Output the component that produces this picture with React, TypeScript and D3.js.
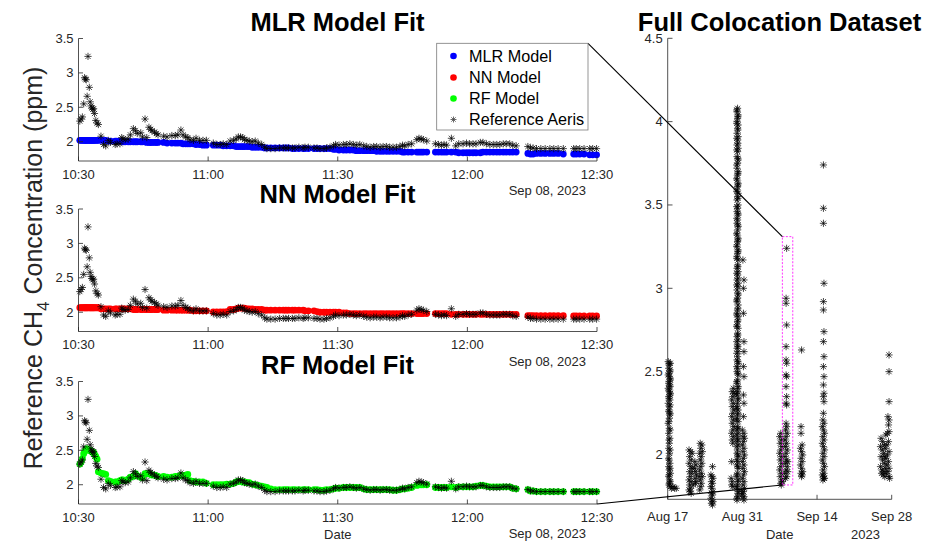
import React from 'react';
import * as d3 from 'd3';

// ---------- Left panels: Sep 08, 2023, minutes after 10:30 ----------
const minutes = [0.3,0.6,0.9,1.2,1.4,1.6,1.8,2.0,2.2,2.5,2.7,2.9,3.1,3.3,3.5,3.7,4.0,4.3,4.6,5.2,5.8,6.3,6.9,7.4,8.5,8.9,9.6,10.0,10.3,10.8,11.5,12.0,12.7,13.2,13.6,14.4,14.8,15.4,15.8,16.3,16.7,17.0,17.6,18.0,18.4,19.7,20.5,21.6,22.4,23.0,23.7,24.2,24.8,25.3,25.8,26.6,27.2,28.0,28.8,29.6,31.2,32.0,32.8,33.5,34.3,35.1,35.9,36.5,37.0,37.5,38.0,38.4,39.0,39.5,40.2,40.9,41.6,42.4,43.1,43.6,44.5,45.5,46.5,47.4,48.0,48.6,49.5,50.1,51.0,52.0,52.4,53.2,54.5,55.2,55.9,56.8,57.4,58.2,59.0,59.5,60.3,61.3,62.0,62.8,63.6,64.3,65.1,66.0,66.7,67.5,68.3,69.0,69.8,70.5,71.3,72.0,72.8,73.6,74.4,75.0,75.5,76.3,77.1,78.3,78.8,79.3,79.8,80.6,82.6,83.3,84.0,84.6,85.2,86.3,87.3,88.0,89.0,89.8,90.5,91.3,92.0,93.0,93.6,94.4,95.2,96.0,96.8,97.5,98.3,99.0,99.8,100.5,101.3,104.0,104.6,105.2,106.0,107.0,108.0,109.1,110.0,111.0,112.2,114.6,115.2,116.0,117.0,118.3,119.0,119.9];
const refAeris = [2.30,2.33,2.36,2.55,2.93,2.91,2.90,2.66,3.24,2.79,2.58,2.52,2.49,2.47,2.48,2.41,2.31,2.27,2.25,2.08,1.96,1.94,2.02,1.99,1.96,1.97,1.97,2.06,2.04,2.03,2.04,2.10,2.19,2.16,2.12,2.13,2.07,2.33,2.06,2.21,2.18,2.16,2.14,2.12,2.10,2.08,2.07,2.09,2.09,2.10,2.17,2.10,2.07,2.06,2.03,2.02,2.05,2.02,2.02,2.02,1.98,1.96,1.96,1.97,1.96,2.01,2.02,2.04,2.07,2.07,2.06,2.03,2.02,2.01,2.00,2.01,1.98,1.96,1.92,1.90,1.90,1.90,1.91,1.91,1.91,1.91,1.91,1.91,1.92,1.91,1.92,1.92,1.91,1.91,1.90,1.90,1.91,1.92,1.94,1.96,1.95,1.96,1.96,1.97,1.96,1.95,1.96,1.94,1.93,1.92,1.93,1.93,1.92,1.93,1.93,1.92,1.92,1.92,1.93,1.95,1.94,1.96,1.97,2.03,2.05,2.04,2.03,2.01,1.97,1.96,1.95,1.96,1.95,2.05,1.94,1.97,1.97,1.98,1.97,1.97,1.97,1.99,1.99,1.97,1.96,1.96,1.96,1.96,1.97,1.97,1.97,1.95,1.94,1.93,1.91,1.91,1.90,1.90,1.90,1.90,1.90,1.90,1.90,1.90,1.90,1.90,1.90,1.90,1.90,1.90];
const mlrModel = [2.02,2.02,2.02,2.02,2.02,2.02,2.02,2.02,2.02,2.02,2.02,2.02,2.02,2.02,2.02,2.02,2.02,2.02,2.02,2.02,2.02,2.02,2.01,2.01,2.01,2.01,2.01,2.01,2.00,2.00,2.00,2.00,2.00,2.00,2.00,2.00,2.00,2.00,1.99,1.99,1.99,1.99,1.99,1.99,1.99,1.99,1.98,1.98,1.98,1.98,1.98,1.97,1.97,1.97,1.97,1.97,1.96,1.96,1.95,1.95,1.95,1.95,1.95,1.94,1.94,1.94,1.94,1.93,1.93,1.93,1.93,1.93,1.93,1.93,1.92,1.92,1.92,1.92,1.91,1.91,1.91,1.91,1.91,1.91,1.91,1.91,1.90,1.90,1.90,1.90,1.90,1.90,1.90,1.90,1.90,1.90,1.90,1.90,1.89,1.89,1.88,1.88,1.88,1.88,1.88,1.87,1.87,1.87,1.87,1.87,1.87,1.86,1.86,1.86,1.86,1.86,1.86,1.86,1.86,1.85,1.85,1.85,1.85,1.85,1.85,1.85,1.85,1.85,1.85,1.85,1.85,1.85,1.85,1.85,1.85,1.84,1.84,1.84,1.84,1.84,1.84,1.84,1.85,1.85,1.85,1.85,1.85,1.85,1.85,1.85,1.85,1.85,1.85,1.83,1.82,1.82,1.83,1.83,1.83,1.83,1.83,1.83,1.82,1.82,1.82,1.82,1.82,1.81,1.81,1.81];
const nnModel = [2.065,2.065,2.065,2.065,2.065,2.065,2.065,2.065,2.065,2.065,2.065,2.065,2.065,2.065,2.065,2.065,2.065,2.065,2.065,2.05,2.05,2.05,2.05,2.05,2.05,2.05,2.05,2.05,2.05,2.05,2.05,2.05,2.04,2.04,2.04,2.04,2.04,2.04,2.04,2.04,2.04,2.04,2.04,2.04,2.04,2.03,2.03,2.03,2.03,2.03,2.03,2.03,2.03,2.03,2.03,2.02,2.02,2.02,2.02,2.02,2.005,2.005,2.005,2.005,2.01,2.04,2.04,2.05,2.06,2.06,2.06,2.06,2.05,2.05,2.05,2.04,2.04,2.04,2.03,2.03,2.03,2.03,2.03,2.03,2.03,2.03,2.03,2.03,2.03,2.03,2.02,2.02,2.02,2.01,2.00,2.00,2.00,2.00,2.00,2.00,2.00,1.99,1.99,1.98,1.98,1.98,1.98,1.98,1.98,1.98,1.98,1.98,1.98,1.98,1.98,1.98,1.98,1.98,1.98,1.98,1.98,1.98,1.98,1.98,1.98,1.98,1.98,1.98,1.98,1.98,1.98,1.98,1.98,1.97,1.97,1.97,1.97,1.97,1.97,1.97,1.97,1.97,1.97,1.97,1.97,1.97,1.97,1.97,1.97,1.97,1.97,1.97,1.97,1.95,1.95,1.95,1.95,1.95,1.95,1.95,1.95,1.95,1.95,1.945,1.945,1.945,1.945,1.945,1.945,1.945];
const rfModel = [2.30,2.33,2.38,2.45,2.48,2.50,2.52,2.52,2.51,2.50,2.50,2.49,2.48,2.47,2.47,2.44,2.41,2.37,2.19,2.17,2.16,2.15,2.06,2.05,2.04,2.04,2.06,2.07,2.07,2.06,2.08,2.11,2.12,2.16,2.13,2.11,2.10,2.16,2.16,2.16,2.15,2.14,2.14,2.13,2.12,2.12,2.11,2.11,2.12,2.12,2.14,2.13,2.14,2.15,2.06,2.05,2.04,2.04,2.04,2.02,2.00,2.00,2.00,2.00,2.01,2.01,2.02,2.04,2.05,2.05,2.04,2.04,2.03,2.03,2.01,2.00,1.99,1.98,1.97,1.96,1.94,1.93,1.93,1.93,1.93,1.93,1.93,1.93,1.93,1.93,1.93,1.93,1.93,1.93,1.92,1.92,1.93,1.93,1.94,1.95,1.95,1.96,1.96,1.96,1.96,1.96,1.96,1.94,1.93,1.93,1.93,1.93,1.93,1.93,1.93,1.93,1.92,1.92,1.93,1.94,1.94,1.95,1.96,1.99,2.00,2.00,2.00,2.00,1.96,1.96,1.96,1.96,1.96,1.97,1.96,1.97,1.97,1.97,1.97,1.97,1.98,1.99,1.99,1.98,1.97,1.97,1.97,1.97,1.97,1.97,1.97,1.95,1.94,1.93,1.91,1.91,1.90,1.90,1.90,1.90,1.90,1.90,1.90,1.90,1.90,1.90,1.90,1.90,1.90,1.90];

const timeTicks = [0, 30, 60, 90, 120];
const timeTickLabels = ['10:30', '11:00', '11:30', '12:00', '12:30'];
const concTicks = [2, 2.5, 3, 3.5];
const panelTitles = ['MLR Model Fit', 'NN Model Fit', 'RF Model Fit'];
const seriesNames = ['MLR Model', 'NN Model', 'RF Model', 'Reference Aeris'];
const dayLabel = 'Sep 08, 2023';

// ---------- Right panel: full colocation dataset, [days after Aug 17, ppm] ----------
const colAug17 = [[0.1,2.56],[0.3,2.54],[0.5,2.55],[0.2,2.52],[0.4,2.50],[0.1,2.48],[0.3,2.47],[0.5,2.45],[0.2,2.43],[0.4,2.42],[0.1,2.40],[0.3,2.38],[0.5,2.37],[0.2,2.35],[0.4,2.33],[0.1,2.31],[0.3,2.29],[0.2,2.26],[0.4,2.24],[0.3,2.22],[0.1,2.19],[0.3,2.16],[0.2,2.13],[0.4,2.10],[0.3,2.07],[0.2,2.04],[0.3,2.01],[0.2,1.98],[0.4,1.95],[0.2,1.93],[0.3,1.91],[0.5,1.89],[0.2,1.87],[0.4,1.85],[0.3,1.83],[0.5,1.81],[0.7,1.80],[1.0,1.81],[1.3,1.80],[1.6,1.80]];
const colAug17b = [[0.25,2.55],[0.45,2.51],[0.25,2.49],[0.45,2.46],[0.25,2.44],[0.45,2.41],[0.25,2.39],[0.45,2.36],[0.25,2.34],[0.45,2.30],[0.25,2.27],[0.45,2.25],[0.25,2.20],[0.45,2.15],[0.25,2.09],[0.45,2.03],[0.25,1.97],[0.45,1.92],[0.25,1.88],[0.45,1.84],[0.25,1.82]];
const colAug21 = [[4.0,2.03],[4.3,2.02],[4.6,2.01],[4.1,1.99],[4.4,1.97],[4.0,1.95],[4.3,1.93],[4.6,1.92],[4.1,1.90],[4.5,1.89],[4.2,1.87],[4.0,1.85],[4.4,1.84],[4.1,1.82],[4.3,1.80],[4.0,1.79],[4.2,1.78],[4.4,1.77],[4.8,1.82]];
const colAug22 = [[5.1,1.96],[5.3,1.94],[5.0,1.92],[5.2,1.90],[5.4,1.88],[5.1,1.86],[5.3,1.84],[5.2,1.83]];
const colAug23 = [[6.1,2.07],[6.4,2.06],[6.2,2.04],[6.5,2.02],[6.0,2.01],[6.3,1.99],[6.1,1.97],[6.4,1.95],[6.2,1.93],[6.0,1.91],[6.3,1.89],[6.5,1.87],[6.1,1.85],[6.3,1.83],[6.2,1.81],[6.0,1.79],[5.9,1.87]];
const colAug25 = [[8.4,1.93],[8.1,1.88],[8.3,1.87],[8.5,1.86],[8.2,1.84],[8.4,1.83],[8.1,1.81],[8.3,1.80],[8.5,1.78],[8.2,1.77],[8.4,1.76],[8.1,1.74],[8.3,1.73],[8.5,1.72],[8.2,1.71],[8.4,1.70]];
const colAug29 = [[12.3,2.40],[12.1,2.38],[12.4,2.37],[12.2,2.35],[12.0,2.33],[12.3,2.31],[12.1,2.29],[12.4,2.27],[12.2,2.25],[12.0,2.23],[12.3,2.21],[12.1,2.19],[12.4,2.17],[12.2,2.15],[12.0,2.13],[12.3,2.11],[12.1,2.09],[12.2,2.07],[12.0,1.96],[11.9,1.86],[12.1,1.84],[12.0,1.82],[12.2,1.81]];
const colAug30 = [[13.1,4.08],[13.0,4.06],[13.2,4.04],[13.1,4.02],[13.0,4.00],[13.2,3.98],[13.1,3.96],[13.0,3.93],[13.2,3.91],[13.1,3.89],[13.0,3.86],[13.2,3.84],[13.1,3.82],[13.0,3.79],[13.2,3.77],[13.1,3.75],[13.0,3.72],[13.2,3.70],[13.1,3.68],[13.0,3.65],[13.2,3.63],[13.1,3.61],[13.0,3.59],[13.2,3.57],[13.1,3.55],[13.0,3.53],[13.2,3.50],[13.1,3.48],[13.0,3.46],[13.2,3.44],[13.1,3.41],[13.0,3.39],[13.2,3.37],[13.1,3.35],[13.0,3.32],[13.2,3.30],[13.1,3.28],[13.0,3.26],[13.2,3.23],[13.1,3.21],[13.0,3.19],[13.2,3.17],[13.1,3.14],[13.0,3.12],[13.2,3.10],[13.1,3.08],[13.0,3.05],[13.2,3.03],[13.1,3.01],[13.0,2.99],[13.2,2.96],[13.1,2.94],[13.0,2.92],[13.2,2.90],[13.1,2.87],[13.0,2.85],[13.2,2.83],[13.1,2.80],[13.0,2.78],[13.2,2.76],[13.1,2.73],[13.0,2.71],[13.2,2.69],[13.1,2.66],[13.0,2.64],[13.2,2.62],[13.1,2.59],[13.0,2.57],[13.2,2.55],[13.1,2.52],[13.0,2.50],[13.2,2.48],[13.1,2.45],[13.0,2.43],[13.2,2.41],[13.1,2.38],[13.0,2.36],[13.2,2.34],[13.1,2.31],[13.0,2.29],[13.2,2.27],[13.1,2.24],[13.0,2.22],[13.2,2.20],[13.1,2.17],[13.0,2.15],[13.2,2.13],[13.1,2.10],[13.0,2.08],[13.2,2.06],[13.1,2.03],[13.0,2.01],[13.2,1.99],[13.1,1.96],[13.0,1.94],[13.2,1.92],[13.1,1.89],[13.0,1.87],[13.2,1.85],[13.1,1.82],[13.0,1.80],[13.2,1.78],[13.1,1.75],[13.0,1.73]];
const colAug30b = [[12.95,4.07],[13.15,4.03],[12.95,3.99],[13.15,3.95],[12.95,3.90],[13.15,3.87],[12.95,3.83],[13.15,3.78],[12.95,3.74],[13.15,3.69],[12.95,3.66],[13.15,3.62],[12.95,3.58],[13.15,3.54],[12.95,3.49],[13.15,3.45],[12.95,3.42],[13.15,3.38],[12.95,3.33],[13.15,3.29],[12.95,3.25],[13.15,3.22],[12.95,3.18],[13.15,3.13],[12.95,3.09],[13.15,3.06],[12.95,3.02],[13.15,2.97],[12.95,2.93],[13.15,2.88],[12.95,2.84],[13.15,2.81],[12.95,2.77],[13.15,2.72],[12.95,2.68],[13.15,2.65],[12.95,2.61],[13.15,2.56],[12.95,2.53],[13.15,2.49],[12.95,2.44],[13.15,2.40],[12.95,2.37],[13.15,2.33],[12.95,2.28],[13.15,2.25],[12.95,2.21],[13.15,2.16],[12.95,2.12],[13.15,2.09],[12.95,2.05],[13.15,2.00],[12.95,1.97],[13.15,1.93],[12.95,1.88],[13.15,1.84],[12.95,1.81],[13.15,1.77],[12.95,1.74]];
const colAug31 = [[14.1,3.17],[14.3,3.05],[14.2,3.00],[14.2,2.85],[14.3,2.68],[14.3,2.62],[14.2,2.53],[14.3,2.47],[14.2,2.36],[14.3,2.31],[14.2,2.23],[14.0,2.15],[14.3,2.13],[14.1,2.11],[14.4,2.10],[14.2,2.08],[14.0,2.06],[14.3,2.04],[14.1,2.02],[14.4,2.00],[14.2,1.98],[14.0,1.96],[14.3,1.94],[14.1,1.92],[14.4,1.90],[14.2,1.88],[14.0,1.86],[14.3,1.84],[14.1,1.82],[14.4,1.80],[14.2,1.78],[14.0,1.77],[14.3,1.75],[14.1,1.74],[14.3,1.73],[13.9,1.76],[13.8,1.79]];
const colSep07 = [[21.2,2.13],[21.0,2.11],[21.3,2.09],[21.1,2.07],[21.4,2.05],[21.2,2.03],[21.0,2.01],[21.3,1.99],[21.1,1.97],[21.4,1.95],[21.2,1.93],[21.0,1.91],[21.3,1.89],[21.1,1.87],[21.4,1.85],[21.2,1.83],[21.3,1.82],[21.5,1.84]];
const colSep08 = [[22.3,3.24],[22.2,2.94],[22.2,2.91],[22.3,2.78],[22.2,2.65],[22.2,2.57],[22.3,2.55],[22.2,2.48],[22.3,2.47],[22.2,2.41],[22.3,2.35],[22.2,2.31],[22.3,2.30],[22.2,2.19],[22.3,2.17],[22.1,2.15],[22.4,2.13],[22.2,2.11],[22.0,2.09],[22.3,2.07],[22.1,2.05],[22.4,2.03],[22.2,2.01],[22.0,1.99],[22.3,1.97],[22.1,1.95],[22.4,1.93],[22.2,1.91],[22.0,1.89],[22.3,1.87],[22.1,1.86],[22.5,1.90],[22.5,1.96]];
const colSep10 = [[25.1,2.63],[25.0,2.17],[25.0,2.13],[25.2,2.06],[24.9,2.04],[25.1,2.02],[25.3,2.00],[25.0,1.98],[25.2,1.96],[24.9,1.94],[25.1,1.92],[25.3,1.90],[25.0,1.89],[25.2,1.88],[25.1,1.87]];
const colSep14 = [[29.2,3.74],[29.2,3.48],[29.2,3.39],[29.3,3.03],[29.2,2.92],[29.2,2.87],[29.3,2.74],[29.2,2.68],[29.3,2.59],[29.2,2.53],[29.3,2.47],[29.2,2.42],[29.3,2.37],[29.2,2.35],[29.3,2.32],[29.2,2.25],[29.1,2.21],[29.3,2.19],[29.0,2.17],[29.2,2.15],[29.4,2.13],[29.1,2.11],[29.3,2.09],[29.0,2.07],[29.2,2.05],[29.4,2.03],[29.1,2.01],[29.3,1.99],[29.0,1.97],[29.2,1.95],[29.4,1.93],[29.1,1.91],[29.3,1.89],[29.0,1.88],[29.2,1.87],[29.4,1.86],[29.1,1.85],[29.3,1.86]];
const colSep27 = [[41.5,2.60],[41.5,2.50],[41.5,2.32],[41.3,2.23],[41.5,2.21],[41.4,2.18],[40.0,2.10],[40.3,2.08],[40.6,2.06],[40.9,2.12],[41.2,2.13],[41.5,2.14],[39.9,2.05],[40.2,2.03],[40.5,2.01],[40.8,2.04],[41.1,2.06],[41.4,2.08],[40.0,1.99],[40.3,1.97],[40.6,1.95],[40.9,1.98],[41.2,2.00],[41.5,2.02],[39.9,1.93],[40.2,1.91],[40.5,1.90],[40.8,1.92],[41.1,1.94],[41.4,1.96],[40.1,1.89],[40.4,1.88],[40.7,1.87],[41.0,1.89],[41.3,1.90],[41.5,1.87],[41.6,1.86],[41.5,1.92],[40.7,1.99]];

const fullTicks = [2, 2.5, 3, 3.5, 4, 4.5];
const dateTickDays = [0, 14, 28, 42];
const dateTickLabels = ['Aug 17', 'Aug 31', 'Sep 14', 'Sep 28'];
const zoomDays = [21.5, 23.45];
const zoomConc = [1.82, 3.31];

// ---------- helpers ----------
const FONT = '"Liberation Sans", Arial, Helvetica, sans-serif';
const AX = '#262626';
const DAY_MS = 86400000;
const baseDate = new Date(2023, 7, 17).getTime();
const toDate = (d: number) => new Date(baseDate + d * DAY_MS);

const starPath = (s: number) => {
  const d = s * 0.72;
  return `M${-s},0H${s}M0,${-s}V${s}M${-d},${-d}L${d},${d}M${-d},${d}L${d},${-d}`;
};
const STAR = starPath(3.6);

export default function App() {
  const W = 925, H = 541;
  const xL = d3.scaleLinear().domain([0, 120]).range([78.5, 597]);
  const panelBottoms = [161, 331.5, 504];
  const panelH = 122.5;
  const colors = ['#0000ff', '#ff0000', '#00ff00'];
  const models = [mlrModel, nnModel, rfModel];

  const xR = d3.scaleTime().domain([toDate(0), toDate(42)]).range([667.7, 891.7]);
  const yR = d3.scaleLinear().domain([1.734, 4.5]).range([499.3, 38.3]);
  const fullData = [
    ...colAug17, ...colAug17b, ...colAug21, ...colAug22, ...colAug23, ...colAug25, ...colAug29,
    ...colAug30, ...colAug30b, ...colAug31, ...colSep07, ...colSep08, ...colSep10, ...colSep14, ...colSep27,
  ];

  const yScales = panelBottoms.map((b) => d3.scaleLinear().domain([1.72, 3.5]).range([b, b - panelH]));

  const legend = { x0: 436.7, y0: 43.3, x1: 588, y1: 130 };
  const rectX0 = xR(toDate(zoomDays[0]));
  const rectX1 = xR(toDate(zoomDays[1]));
  const rectY0 = yR(zoomConc[1]);
  const rectY1 = yR(zoomConc[0]);

  return (
    <svg width={W} height={H} style={{ position: 'absolute', left: 0, top: 0, background: '#fff' }} fontFamily={FONT}>
      <rect x={0} y={0} width={W} height={H} fill="#fff" />
      {panelBottoms.map((b, pi) => {
        const y = yScales[pi];
        return (
          <g key={pi}>
            {minutes.map((t, i) => (
              <circle key={'m' + i} cx={xL(t)} cy={y(models[pi][i])} r={3.4} fill={colors[pi]} />
            ))}
            {minutes.map((t, i) => (
              <path key={'r' + i} d={STAR} transform={`translate(${xL(t)},${y(refAeris[i])})`} stroke="#000" strokeWidth={0.85} fill="none" opacity={0.85} />
            ))}
            <line x1={78.5} x2={78.5} y1={y(3.5)} y2={b} stroke={AX} strokeWidth={0.8} />
            <line x1={78.5} x2={597} y1={b} y2={b} stroke={AX} strokeWidth={0.8} />
            {concTicks.map((v) => (
              <g key={v}>
                <line x1={78.5} x2={83} y1={y(v)} y2={y(v)} stroke={AX} strokeWidth={0.8} />
                <text x={73.5} y={y(v) + 4.5} textAnchor="end" fontSize={13} fill={AX}>{String(v)}</text>
              </g>
            ))}
            {timeTicks.map((t, i) => (
              <g key={t}>
                <line x1={xL(t)} x2={xL(t)} y1={b} y2={b - 4.5} stroke={AX} strokeWidth={0.8} />
                <text x={xL(t)} y={b + 17.5} textAnchor="middle" fontSize={13} fill={AX}>{timeTickLabels[i]}</text>
              </g>
            ))}
            <text x={586} y={b + 34} textAnchor="end" fontSize={13} fill={AX}>{dayLabel}</text>
            <text x={337.5} y={[31, 202.5, 374][pi]} textAnchor="middle" fontSize={25.5} fontWeight="bold" fill="#000">{panelTitles[pi]}</text>
          </g>
        );
      })}
      <text x={xL(60)} y={538.5} textAnchor="middle" fontSize={13} fill={AX}>Date</text>

      <text transform="translate(42,268) rotate(-90)" textAnchor="middle" fontSize={25} fill={AX}>
        Reference CH<tspan dy={7} fontSize={17}>4</tspan><tspan dy={-7}> Concentration (ppm)</tspan>
      </text>

      <g>
        {fullData.map((p, i) => (
          <path key={i} d={STAR} transform={`translate(${xR(toDate(p[0]))},${yR(p[1])})`} stroke="#000" strokeWidth={0.85} fill="none" opacity={0.85} />
        ))}
        <line x1={667.7} x2={667.7} y1={38.3} y2={499.3} stroke={AX} strokeWidth={0.8} />
        <line x1={667.7} x2={891.7} y1={499.3} y2={499.3} stroke={AX} strokeWidth={0.8} />
        {fullTicks.map((v) => (
          <g key={v}>
            <line x1={667.7} x2={672.5} y1={yR(v)} y2={yR(v)} stroke={AX} strokeWidth={0.8} />
            <text x={662.7} y={yR(v) + 4.5} textAnchor="end" fontSize={13} fill={AX}>{String(v)}</text>
          </g>
        ))}
        {dateTickDays.map((d, i) => (
          <g key={d}>
            <line x1={xR(toDate(d))} x2={xR(toDate(d))} y1={499.3} y2={494.8} stroke={AX} strokeWidth={0.8} />
            <text x={xR(toDate(d))} y={521} textAnchor="middle" fontSize={13} fill={AX}>{dateTickLabels[i]}</text>
          </g>
        ))}
        <text x={779.7} y={538.5} textAnchor="middle" fontSize={13} fill={AX}>Date</text>
        <text x={880} y={538.5} textAnchor="end" fontSize={13} fill={AX}>2023</text>
        <text x={779.5} y={30.5} textAnchor="middle" fontSize={25.5} fontWeight="bold" fill="#000">Full Colocation Dataset</text>
        <rect x={rectX0} y={rectY0} width={rectX1 - rectX0} height={rectY1 - rectY0} fill="none" stroke="#ff00ff" strokeWidth={0.8} strokeDasharray="2,1.5" />
      </g>

      <line x1={legend.x1} y1={legend.y0} x2={rectX0} y2={rectY0} stroke="#000" strokeWidth={1.1} />
      <line x1={xL(120)} y1={yScales[2](1.72)} x2={rectX0} y2={rectY1} stroke="#000" strokeWidth={1.1} />

      <g>
        <rect x={legend.x0} y={legend.y0} width={legend.x1 - legend.x0} height={legend.y1 - legend.y0} fill="#fff" stroke="#7a7a7a" strokeWidth={0.8} />
        {seriesNames.map((name, i) => {
          const cy = [56, 77.5, 98.5, 119.5][i];
          return (
            <g key={name}>
              {i < 3 ? (
                <circle cx={453.5} cy={cy} r={3.3} fill={colors[i]} />
              ) : (
                <path d={starPath(3)} transform={`translate(453.5,${cy})`} stroke="#444" strokeWidth={0.8} fill="none" />
              )}
              <text x={469} y={cy + 5.8} fontSize={16.2} fill="#000">{name}</text>
            </g>
          );
        })}
      </g>
    </svg>
  );
}
